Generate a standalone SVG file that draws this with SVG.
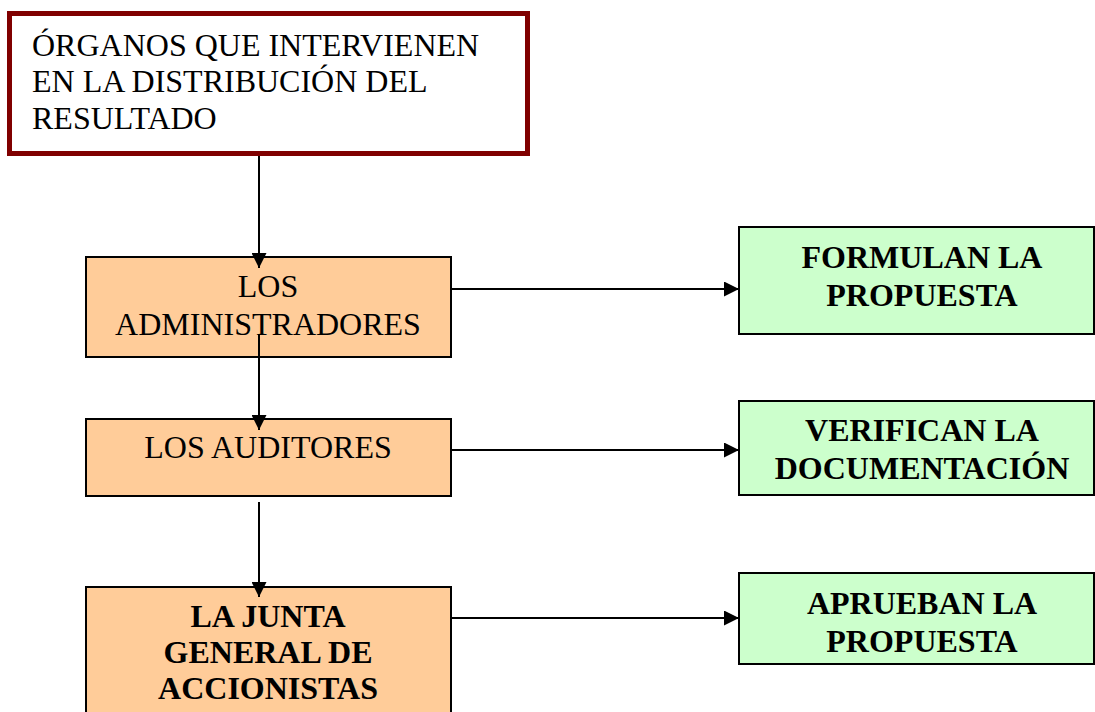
<svg xmlns="http://www.w3.org/2000/svg" width="1095" height="712" viewBox="0 0 1095 712">
<style>
text{font-family:"Liberation Serif","Times New Roman",serif;font-size:32px;fill:#000}
.b{font-weight:bold}
.c{text-anchor:middle}
.org{fill:#FFCC99;stroke:#000;stroke-width:2}
.grn{fill:#CCFFCC;stroke:#000;stroke-width:2}
.ln{stroke:#000;stroke-width:2;fill:none}
</style>
<defs>
<marker id="ah" markerUnits="userSpaceOnUse" markerWidth="15" markerHeight="15" refX="15" refY="7.5" orient="auto">
<path d="M0,0 L15,7.5 L0,15 z" fill="#000"/>
</marker>
</defs>
<rect width="1095" height="712" fill="#fff"/>
<g id="organos">
<rect x="9.5" y="13.5" width="518" height="140" fill="#fff" stroke="#800000" stroke-width="5"/>
<text x="32" y="56">ÓRGANOS QUE INTERVIENEN</text>
<text x="32" y="92">EN LA DISTRIBUCIÓN DEL</text>
<text x="32" y="129">RESULTADO</text>
</g>
<g id="administradores">
<rect class="org" x="86" y="257" width="365" height="100"/>
<text class="c" x="268" y="297">LOS</text>
<text class="c" x="268" y="335">ADMINISTRADORES</text>
</g>
<g id="auditores">
<rect class="org" x="86" y="419" width="365" height="77"/>
<text class="c" x="268" y="458">LOS AUDITORES</text>
</g>
<g id="junta">
<rect class="org" x="86" y="587" width="365" height="140"/>
<text class="c b" x="268" y="627">LA JUNTA</text>
<text class="c b" x="268" y="663">GENERAL DE</text>
<text class="c b" x="268" y="699">ACCIONISTAS</text>
</g>
<g id="formulan">
<rect class="grn" x="739" y="227" width="355" height="107"/>
<text class="c b" x="922" y="268">FORMULAN LA</text>
<text class="c b" x="922" y="306">PROPUESTA</text>
</g>
<g id="verifican">
<rect class="grn" x="739" y="401" width="355" height="94"/>
<text class="c b" x="922" y="441">VERIFICAN LA</text>
<text class="c b" x="922" y="479">DOCUMENTACIÓN</text>
</g>
<g id="aprueban">
<rect class="grn" x="739" y="573" width="355" height="91"/>
<text class="c b" x="922" y="614">APRUEBAN LA</text>
<text class="c b" x="922" y="652">PROPUESTA</text>
</g>
<g id="connectors">
<line class="ln" x1="259" y1="156" x2="259" y2="268" marker-end="url(#ah)"/>
<line class="ln" x1="259" y1="335" x2="259" y2="430" marker-end="url(#ah)"/>
<line class="ln" x1="259" y1="502" x2="259" y2="597" marker-end="url(#ah)"/>
<line class="ln" x1="452" y1="289" x2="739" y2="289" marker-end="url(#ah)"/>
<line class="ln" x1="452" y1="450" x2="739" y2="450" marker-end="url(#ah)"/>
<line class="ln" x1="452" y1="618" x2="739" y2="618" marker-end="url(#ah)"/>
</g>
</svg>
